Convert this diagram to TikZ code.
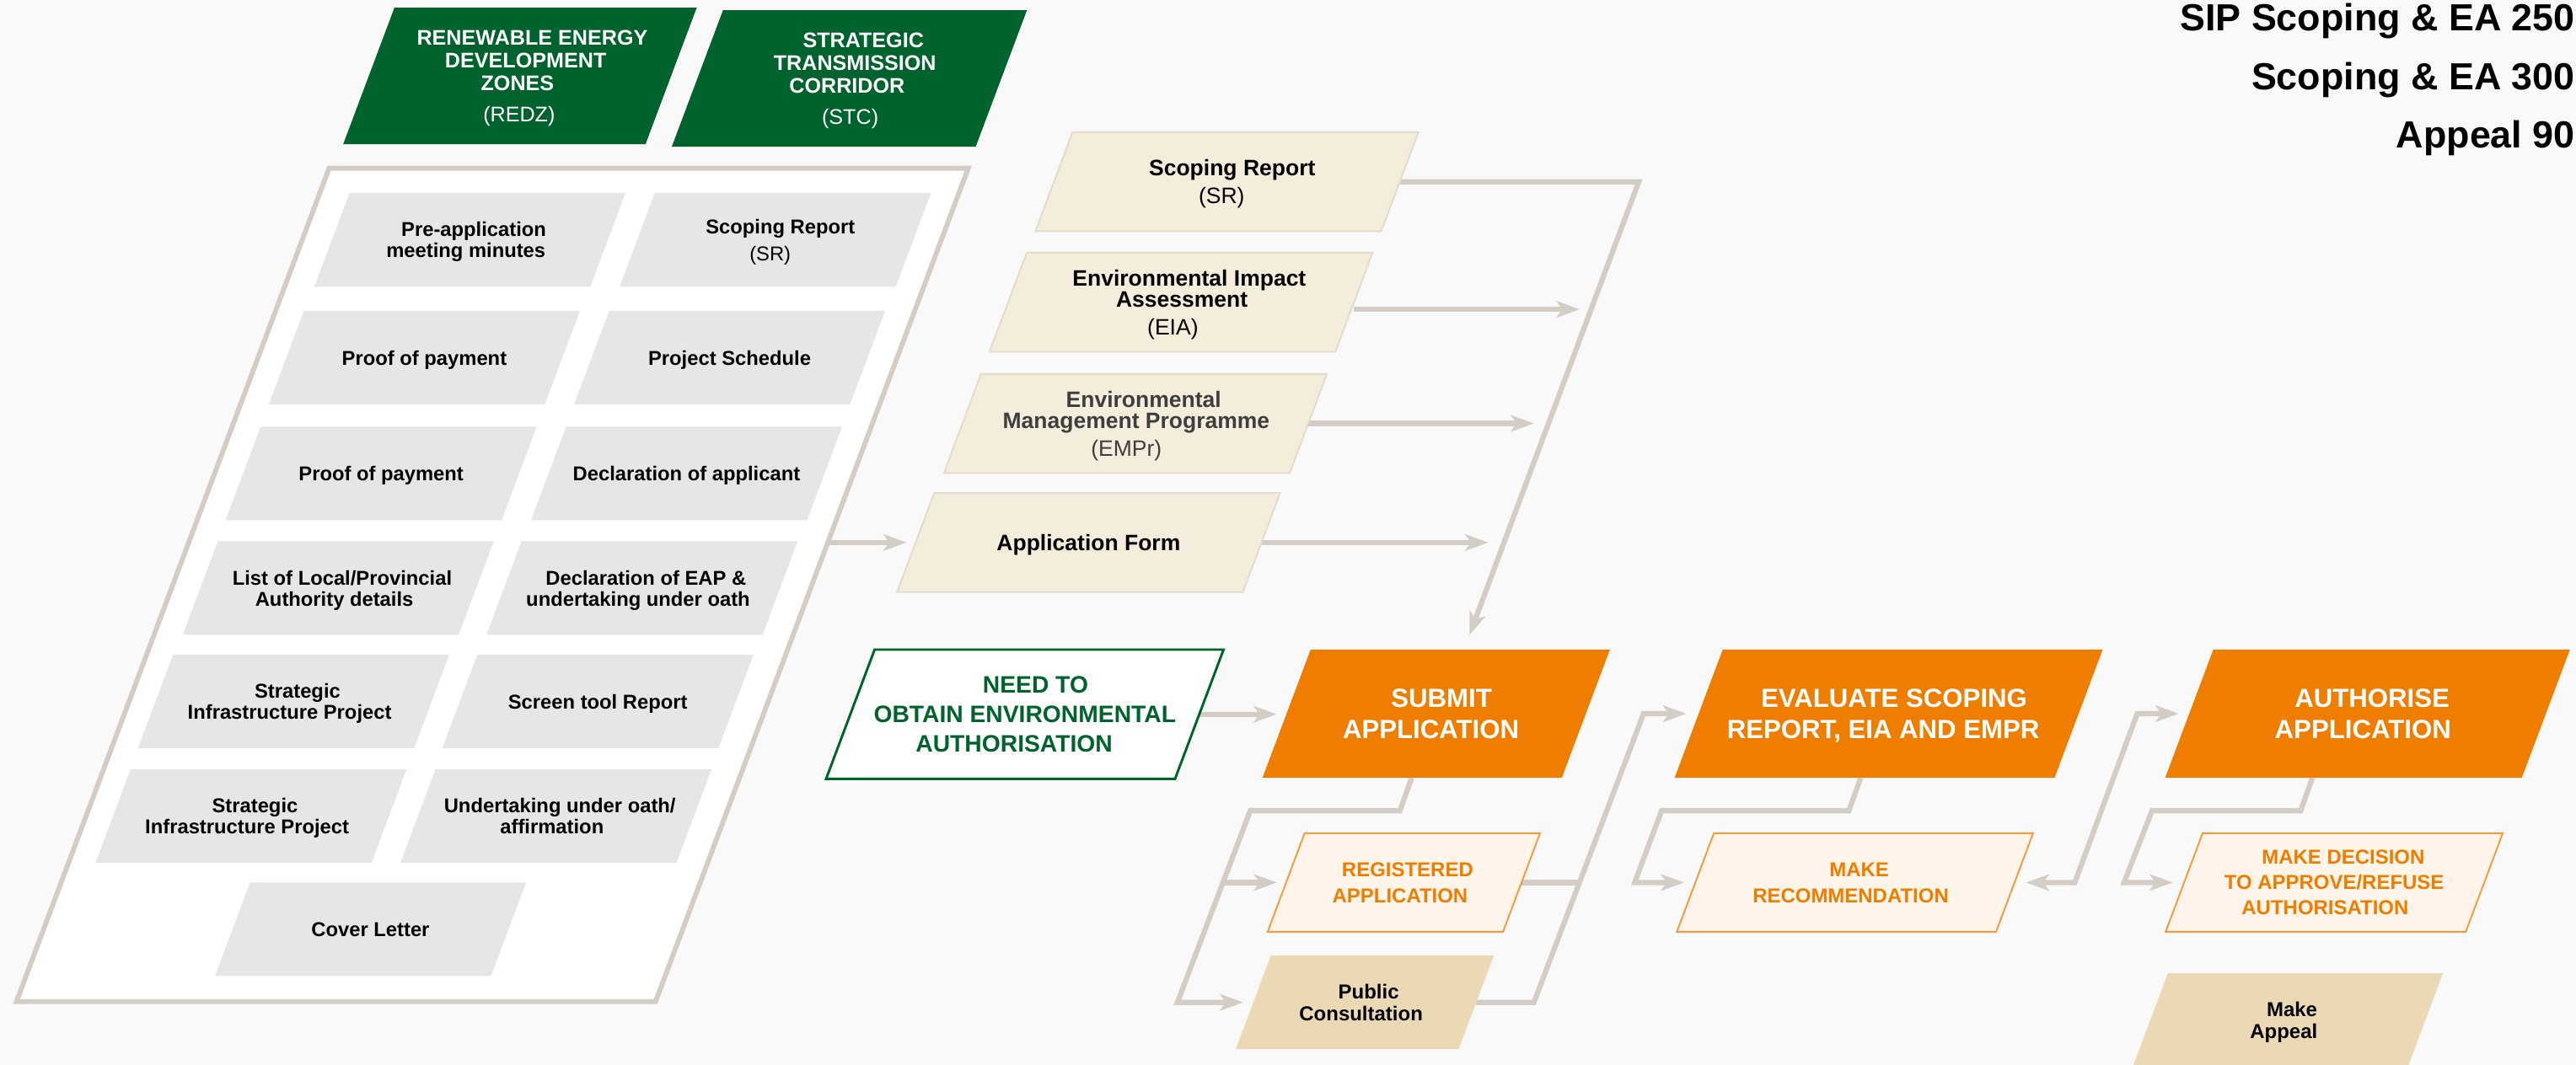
\documentclass[tikz,border=0pt]{standalone}
\usepackage{fontspec}
\setmainfont{Liberation Sans}
\usetikzlibrary{arrows.meta,calc}
\definecolor{bgc}{HTML}{F9F9F9}
\definecolor{dg}{HTML}{00622D}
\definecolor{lc}{HTML}{D4CDC5}
\definecolor{gf}{HTML}{E6E6E6}
\definecolor{bf}{HTML}{F5EDDC}
\definecolor{bb}{HTML}{E3DBCC}
\definecolor{orc}{HTML}{EF7D00}
\definecolor{lof}{HTML}{FEF4E9}
\definecolor{lob}{HTML}{F39C42}
\definecolor{tanc}{HTML}{EAD9B4}
\definecolor{empc}{HTML}{3E3E3E}
\pgfdeclarelayer{bgl}
\pgfdeclarelayer{conn}
\pgfsetlayers{bgl,conn,main}
\newcommand{\fsz}[2]{\fontsize{#1}{#2}\selectfont\lineskiplimit=-50pt\relax}
\newcommand{\lnsh}[2]{\hbox{\kern#1pt\relax#2\kern-#1pt\relax}}
\newcommand{\pgram}[8]{%
  \path[#6] ({#2-#4/2+#5*0.1875},{#3-#5/2}) -- ({#2+#4/2+#5*0.1875},{#3-#5/2})
     -- ({#2+#4/2-#5*0.1875},{#3+#5/2}) -- ({#2-#4/2-#5*0.1875},{#3+#5/2}) -- cycle;
  \node[#7, minimum width=#4pt, minimum height=#5pt] (#1) at (#2,#3) {#8};}
\begin{document}
\begin{tikzpicture}[x=1pt,y=-1pt,
  >={Stealth[length=14pt,width=10pt,inset=3.5pt]},
  txt/.style={inner sep=0pt, outer sep=0pt, align=center, text depth=0pt},
  greenbox/.style={fill=dg},
  panelbox/.style={fill=white, draw=lc, line width=3pt},
  graybox/.style={fill=gf},
  beigebox/.style={fill=bf, draw=bb, line width=1pt},
  needbox/.style={fill=white, draw=dg, line width=1.5pt},
  orangebox/.style={fill=orc},
  lightbox/.style={fill=lof, draw=lob, line width=1pt},
  tanbox/.style={fill=tanc},
  gtext/.style={txt, text=white, font=\fsz{12.9}{14}\bfseries},
  grtext/.style={txt, text=black, font=\fsz{12.2}{12.8}\bfseries},
  btext/.style={txt, text=black, font=\fsz{13.6}{12.8}\bfseries},
  ntext/.style={txt, text=dg, font=\fsz{14.5}{17.8}\bfseries},
  otext/.style={txt, text=white, font=\fsz{16}{18.9}\bfseries},
  ltext/.style={txt, text=orc, font=\fsz{12.3}{15.9}\bfseries},
  ttext/.style={txt, text=black, font=\fsz{12.3}{13.6}\bfseries},
  ttl/.style={inner sep=0pt, anchor=base east, font=\fsz{23}{27}\bfseries},
  conn/.style={draw=lc, line width=3.2pt, line join=miter},
  arr/.style={conn, ->}
]
\begin{pgfonlayer}{bgl}
\fill[bgc] (0,0) rectangle (1568,648.5);
\end{pgfonlayer}
\useasboundingbox (0,0) rectangle (1568,648.5);

% titles
\node[ttl] (t1) at (1567.5,18.5) {SIP Scoping \& EA 250};
\node[ttl] (t2) at (1567.5,54.4) {Scoping \& EA 300};
\node[ttl] (t3) at (1567.5,89.8) {Appeal 90};

% green top boxes
\pgram{redz}{316.5}{46.2}{184}{83.1}{greenbox}{gtext}{\lnsh{7.5}{RENEWABLE ENERGY}\\\lnsh{3.5}{DEVELOPMENT}\\\lnsh{-1.5}{ZONES}\\[4.7pt]\lnsh{-0.5}{\mdseries (REDZ)}}
\pgram{stc}{517}{47.75}{185}{83.1}{greenbox}{gtext}{\lnsh{8.5}{STRATEGIC}\\\lnsh{3.4}{TRANSMISSION}\\\lnsh{-1.4}{CORRIDOR}\\[4.8pt]\lnsh{0.5}{\mdseries (STC)}}

% panel of documents
\pgram{panel}{299.7}{356.15}{389}{507.5}{panelbox}{txt}{}
\pgram{g11}{286.0}{146.1}{168}{57}{graybox}{grtext}{\lnsh{2.4}{Pre-application}\\\lnsh{-2.4}{meeting minutes}}
\pgram{g12}{471.9}{146.1}{168}{57}{graybox}{grtext}{\lnsh{3.1}{Scoping Report}\\[3.9pt]\lnsh{-3.1}{\mdseries (SR)}}
\pgram{g21}{258.3}{217.8}{168}{57}{graybox}{grtext}{Proof of payment}
\pgram{g22}{444.1}{217.8}{168}{57}{graybox}{grtext}{Project Schedule}
\pgram{g31}{232.0}{288.3}{168}{57}{graybox}{grtext}{Proof of payment}
\pgram{g32}{417.9}{288.3}{168}{57}{graybox}{grtext}{Declaration of applicant}
\pgram{g41}{205.9}{358.1}{168}{57}{graybox}{grtext}{\lnsh{2.4}{List of Local/Provincial}\\\lnsh{-2.4}{Authority details}}
\pgram{g42}{390.8}{358.1}{168}{57}{graybox}{grtext}{\lnsh{2.4}{Declaration of EAP \&}\\\lnsh{-2.4}{undertaking under oath}}
\pgram{g51}{178.7}{427.2}{168}{57}{graybox}{grtext}{\lnsh{2.4}{Strategic}\\\lnsh{-2.4}{Infrastructure Project}}
\pgram{g52}{363.9}{427.2}{168}{57}{graybox}{grtext}{Screen tool Report}
\pgram{g61}{152.8}{497.0}{168}{57}{graybox}{grtext}{\lnsh{2.4}{Strategic}\\\lnsh{-2.4}{Infrastructure Project}}
\pgram{g62}{338.4}{497.0}{168}{57}{graybox}{grtext}{\lnsh{2.4}{Undertaking under oath/}\\\lnsh{-2.4}{affirmation}}
\pgram{g7}{225.5}{565.9}{168}{57}{graybox}{grtext}{Cover Letter}

% beige documents
\pgram{sr}{746.8}{110.65}{210.5}{60.3}{beigebox}{btext}{\lnsh{3.2}{Scoping Report}\\[4.2pt]\lnsh{-3.2}{\mdseries (SR)}}
\pgram{eia}{718.9}{184.05}{210.5}{60.3}{beigebox}{btext}{\lnsh{5}{Environmental Impact}\\\lnsh{0.5}{Assessment}\\[4.2pt]\lnsh{-5}{\mdseries (EIA)}}
\pgram{empr}{691.1}{257.85}{210.5}{60.3}{beigebox}{btext, text=empc}{\lnsh{5}{Environmental}\\\lnsh{0.5}{Management Programme}\\[4.2pt]\lnsh{-5.5}{\mdseries (EMPr)}}
\pgram{af}{662.6}{330.35}{210.5}{60.3}{beigebox}{btext}{Application Form}

% process
\pgram{need}{623.8}{434.95}{212.4}{78.7}{needbox}{ntext}{\lnsh{6.5}{NEED TO}\\\lnsh{0}{OBTAIN ENVIRONMENTAL}\\\lnsh{-6.5}{AUTHORISATION}}
\pgram{submit}{874.2}{434.6}{182.2}{78}{orangebox}{otext}{\lnsh{3.2}{SUBMIT}\\\lnsh{-3.2}{APPLICATION}}
\pgram{evaluate}{1149.6}{434.6}{231.3}{78}{orangebox}{otext}{\lnsh{3.3}{EVALUATE SCOPING}\\\lnsh{-3.3}{REPORT, EIA AND EMPR}}
\pgram{auth}{1441.1}{434.6}{217.1}{78}{orangebox}{otext}{\lnsh{2.8}{AUTHORISE}\\\lnsh{-2.8}{APPLICATION}}
\pgram{reg}{854.5}{537.4}{143.3}{60}{lightbox}{ltext}{\lnsh{2.3}{REGISTERED}\\\lnsh{-2.3}{APPLICATION}}
\pgram{rec}{1129.1}{537.4}{194.3}{60}{lightbox}{ltext}{\lnsh{2.6}{MAKE}\\\lnsh{-2.6}{RECOMMENDATION}}
\pgram{dec}{1420.8}{537.4}{182.7}{60}{lightbox}{ltext, font=\fsz{12.3}{15.4}\bfseries}{\lnsh{5.5}{MAKE DECISION}\\\lnsh{0}{TO APPROVE/REFUSE}\\\lnsh{-5.5}{AUTHORISATION}}
\pgram{pc}{830.75}{610.4}{135.7}{57}{tanbox}{ttext}{\lnsh{2.3}{Public}\\\lnsh{-2.3}{Consultation}}
\pgram{appeal}{1392.6}{621.2}{167.5}{57}{tanbox}{ttext, font=\fsz{12.3}{13.4}\bfseries}{\lnsh{2.5}{Make}\\\lnsh{-2.5}{Appeal}}

% connector points
\coordinate (cA) at (997.5,110.65);
\coordinate (cB) at (894.4,386.8);
\coordinate (eiaEnd) at (961.5,188.35);
\coordinate (emprEnd) at (933.7,257.85);
\coordinate (afEnd) at (905.9,330.35);
\coordinate (s0) at ($(submit.south)+(-14.9,0)$);
\coordinate (s1) at (852.1,493.7);
\coordinate (s2) at (761,493.7);
\coordinate (s3) at (716.7,610.4);
\coordinate (s4) at (744.4,537.4);
\coordinate (e0) at (933.7,610.4);
\coordinate (e1) at (1000.4,434.6);
\coordinate (e2) at (961.4,537.4);
\coordinate (v0) at ($(evaluate.south)+(-17,0)$);
\coordinate (v1) at (1125.4,493.7);
\coordinate (v2) at (1011.4,493.7);
\coordinate (v3) at (995,537.4);
\coordinate (r1) at (1262.9,537.4);
\coordinate (r2) at (1300.9,434.6);
\coordinate (a0) at ($(auth.south)+(-33.5,0)$);
\coordinate (a1) at (1400.4,493.7);
\coordinate (a2) at (1309.9,493.7);
\coordinate (a3) at (1292.9,537.4);

\begin{pgfonlayer}{conn}
\draw[arr] (sr.east) -- (cA) -- (cB);
\draw[arr] ($(eia.east)+(0,4.3)$) -- (eiaEnd);
\draw[arr] (empr.east) -- (emprEnd);
\draw[arr] (af.east) -- (afEnd);
\draw[arr, shorten >=5.6pt] (panel.east |- af.west) -- (af.west);
\draw[arr, shorten >=6pt] (need.east) -- (need.east -| submit.west);
\draw[arr, shorten >=6.2pt] (s0) -- (s1) -- (s2) -- (s3) -- (pc.west);
\draw[arr, shorten >=5.6pt] (s4) -- (reg.west);
\draw[conn] (reg.east) -- (e2);
\draw[arr, shorten >=7.6pt] (pc.east) -- (e0) -- (e1) -- (evaluate.west);
\draw[arr, shorten >=6.9pt] (v0) -- (v1) -- (v2) -- (v3) -- (rec.west);
\draw[conn, <->, shorten <=7pt, shorten >=6.4pt] (rec.east) -- (r1) -- (r2) -- (auth.west);
\draw[arr, shorten >=6.9pt] (a0) -- (a1) -- (a2) -- (a3) -- (dec.west);
\end{pgfonlayer}
\end{tikzpicture}
\end{document}
